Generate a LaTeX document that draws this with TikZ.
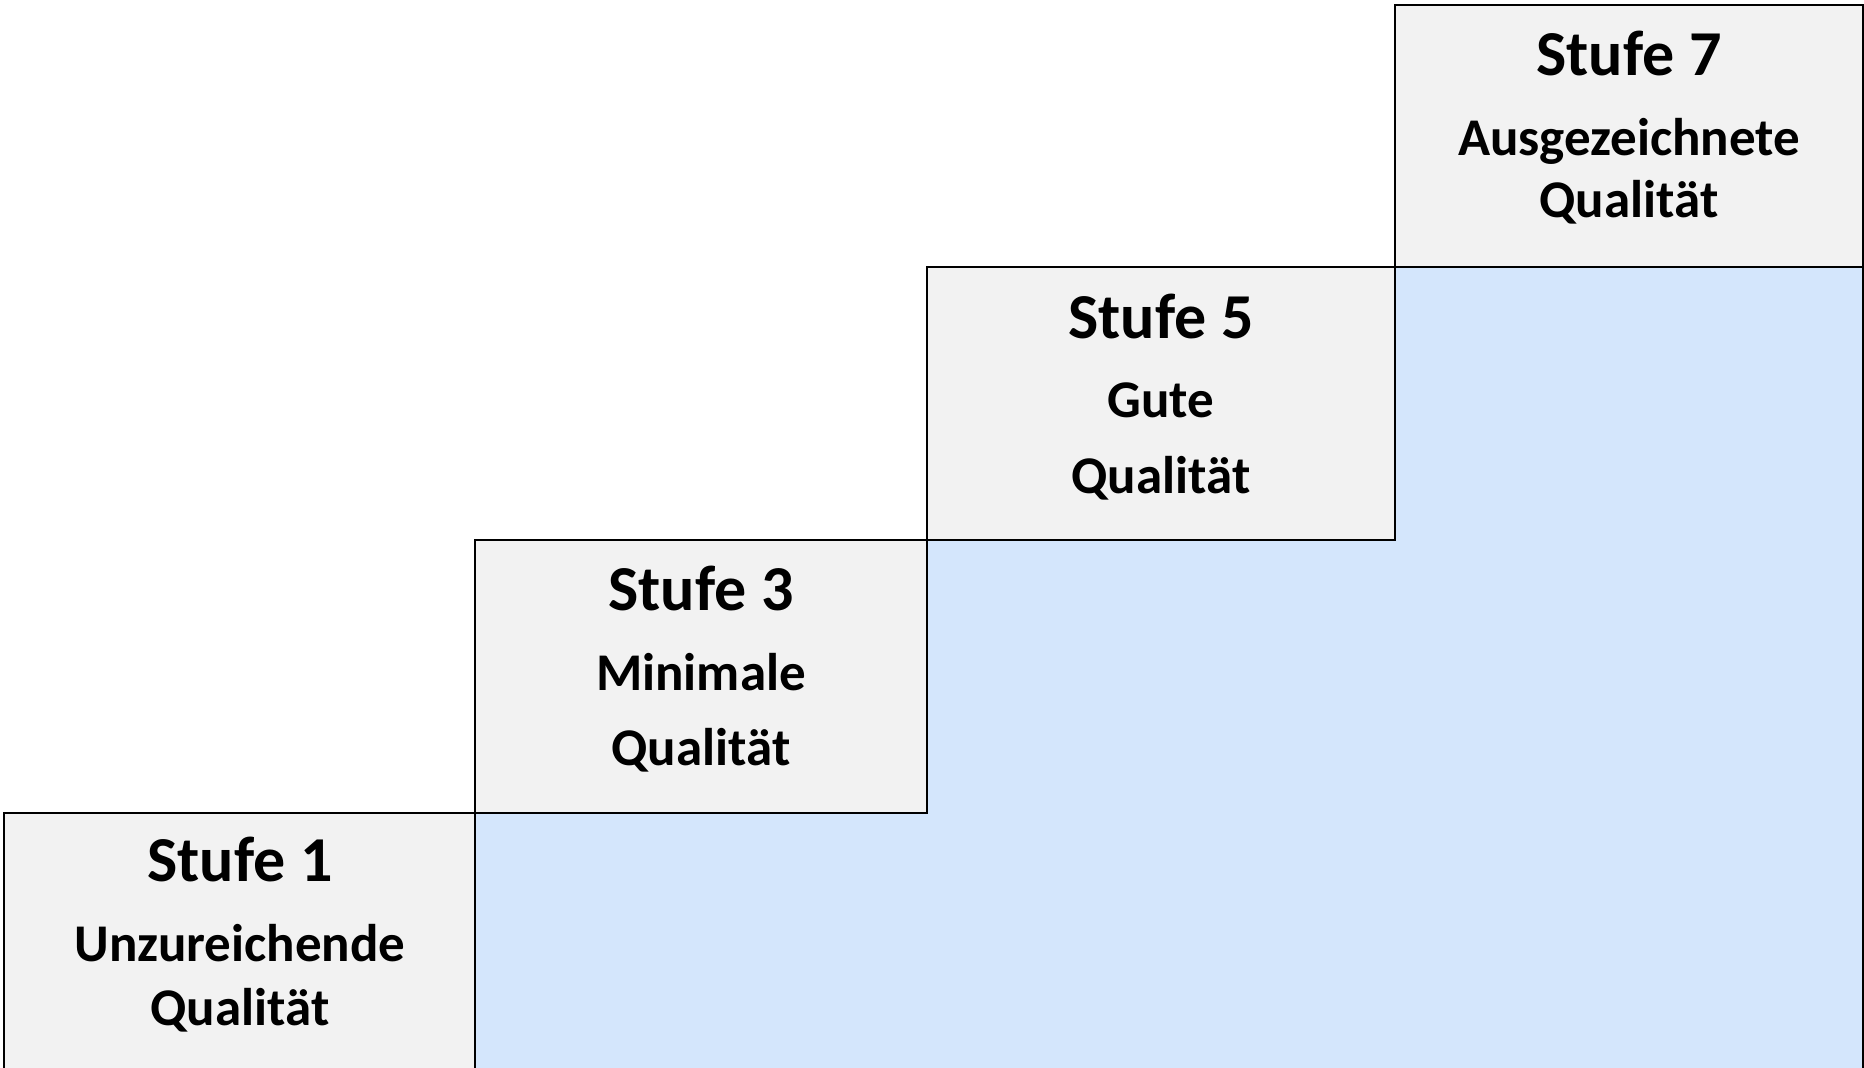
\documentclass[tikz,border=0pt]{standalone}
\usepackage{fontspec}
\setmainfont{Carlito}
\definecolor{boxgray}{HTML}{F2F2F2}
\definecolor{stepblue}{HTML}{D4E6FC}
\begin{document}
\begin{tikzpicture}[x=1pt,y=-1pt,
  stepbox/.style={draw=black,line width=2.8pt,fill=boxgray},
  title/.style={anchor=base,inner sep=0pt,font=\fontsize{64}{64}\selectfont\bfseries},
  sub/.style={anchor=base,inner sep=0pt,font=\fontsize{53}{53}\selectfont\bfseries}]
\useasboundingbox (0,0) rectangle (1864,1068);
\begin{scope}
\clip (0,0) rectangle (1864,1068);
\fill[white] (0,0) rectangle (1864,1068);
\draw[fill=stepblue,line width=2.8pt] (475,1080) -- (475,813) -- (927,813) -- (927,540) -- (1395,540) -- (1395,267) -- (1863,267) -- (1863,1080) -- cycle;
\draw[stepbox] (4,813) rectangle (475,1080);
\draw[stepbox] (475,540) rectangle (927,813);
\draw[stepbox] (927,267) rectangle (1395,540);
\draw[stepbox] (1395,5) rectangle (1863,267);
\end{scope}
\node[title] (t1) at (240,881.5) {Stufe 1};
\node[sub] (a1) at (240,961.5) {Unzureichende};
\node[sub] (b1) at (240,1025) {Qualität};
\node[title] (t3) at (701,610) {Stufe 3};
\node[sub] (a3) at (701,690) {Minimale};
\node[sub] (b3) at (701,765) {Qualität};
\node[title] (t5) at (1161,338) {Stufe 5};
\node[sub] (a5) at (1161,417) {Gute};
\node[sub] (b5) at (1161,493) {Qualität};
\node[title] (t7) at (1629,75) {Stufe 7};
\node[sub] (a7) at (1629,155) {Ausgezeichnete};
\node[sub] (b7) at (1629,217) {Qualität};
\end{tikzpicture}
\end{document}
